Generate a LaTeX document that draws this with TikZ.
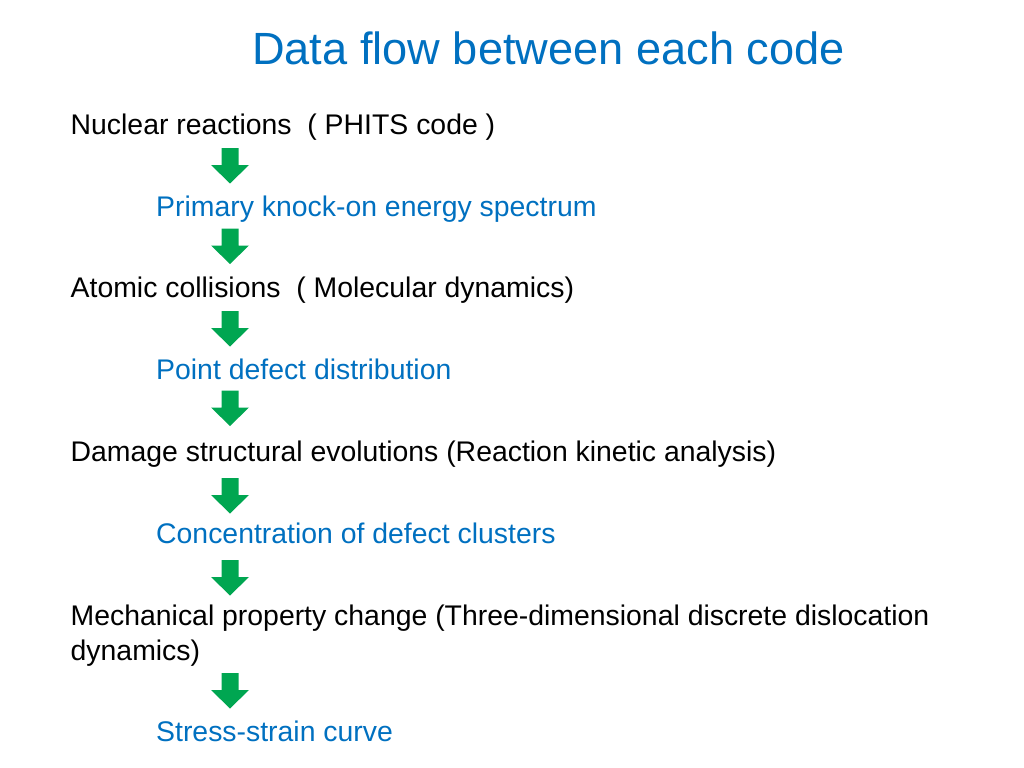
\documentclass[tikz,border=0pt]{standalone}
\usepackage{fontspec}
\setmainfont{Liberation Sans}
\usetikzlibrary{positioning}
\definecolor{codeblue}{RGB}{0,112,192}
\definecolor{flowgreen}{RGB}{0,166,81}

\begin{document}
\begin{tikzpicture}[
  stage/.style={anchor=base west, inner sep=0pt, align=left, font=\fontsize{8.08}{9.92}\selectfont},
  product/.style={stage, text=codeblue},
  flowarrow/.pic={\fill[flowgreen] (-0.085,0) -- (0.085,0) -- (0.085,-0.17) -- (0.19,-0.17)
    -- (0,-0.355) -- (-0.19,-0.17) -- (-0.085,-0.17) -- cycle;},
]
\useasboundingbox (0,0) rectangle (10.24,-7.68);

\node[anchor=base, inner sep=0pt, font=\fontsize{12.85}{15}\selectfont, text=codeblue] (title) at (5.485,-0.643) {Data flow between each code};

\node[stage] (nuc) at (0.70,-1.343) {Nuclear reactions\ \ ( PHITS code\ )};
\node[product] (pka) at (1.555,-2.167) {Primary knock-on energy spectrum};
\node[stage] (atom) at (0.70,-2.97) {Atomic collisions\ \ ( Molecular dynamics)};
\node[product] (pdd) at (1.555,-3.793) {Point defect distribution};
\node[stage] (dmg) at (0.70,-4.61) {Damage structural evolutions (Reaction kinetic analysis)};
\node[product] (ccl) at (1.555,-5.43) {Concentration of defect clusters};
\node[stage] (mech) at (0.70,-6.60) {Mechanical property change (Three-dimensional discrete dislocation\\dynamics)};
\node[product] (ssc) at (1.555,-7.41) {Stress-strain curve};

\pic at (2.30,-1.48) {flowarrow};
\pic at (2.30,-2.285) {flowarrow};
\pic at (2.30,-3.11) {flowarrow};
\pic at (2.30,-3.905) {flowarrow};
\pic at (2.30,-4.78) {flowarrow};
\pic at (2.30,-5.60) {flowarrow};
\pic at (2.30,-6.73) {flowarrow};
\end{tikzpicture}
\end{document}
